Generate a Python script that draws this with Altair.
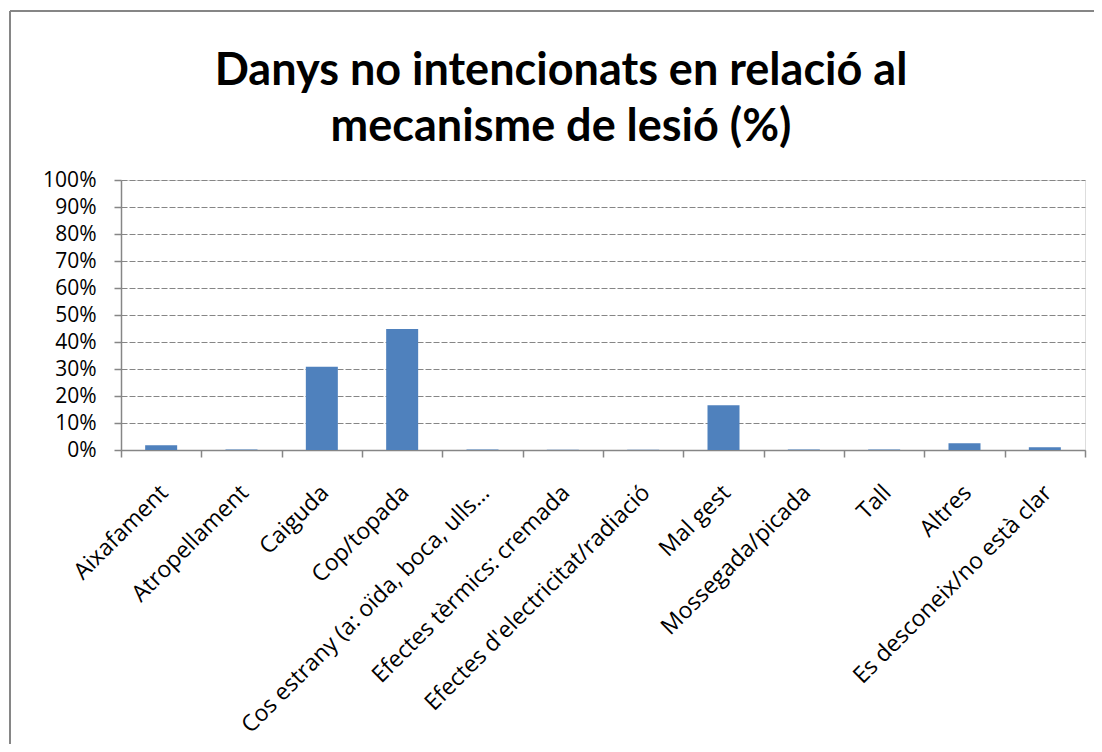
import altair as alt
import pandas as pd

categories = [
    "Aixafament",
    "Atropellament",
    "Caiguda",
    "Cop/topada",
    "Cos estrany (a: oïda, boca, ulls…",
    "Efectes tèrmics: cremada",
    "Efectes d'electricitat/radiació",
    "Mal gest",
    "Mossegada/picada",
    "Tall",
    "Altres",
    "Es desconeix/no està clar",
]
values = [1.8, 0.2, 30.8, 44.8, 0.2, 0.1, 0.1, 16.6, 0.2, 0.2, 2.5, 1.0]
y_ticks = [0, 10, 20, 30, 40, 50, 60, 70, 80, 90, 100]
title_lines = ["Danys no intencionats en relació al", "mecanisme de lesió (%)"]

df = pd.DataFrame({"cat": categories, "val": values})

GREY = "#868686"

bars = alt.Chart(df).mark_bar(size=32, color="#4F81BD").encode(
    x=alt.X(
        "cat:N",
        sort=categories,
        title=None,
        scale=alt.Scale(paddingInner=0, paddingOuter=0),
        axis=alt.Axis(
            tickBand="extent",
            tickSize=7,
            tickColor=GREY,
            tickWidth=1.5,
            domainColor=GREY,
            domainWidth=1.5,
            labelAngle=-45,
            labelAlign="right",
            labelBaseline="top",
            labelPadding=24,
            labelOffset=-5,
            labelFont="Open Sans",
            labelFontSize=23,
            labelColor="#000000",
            labelLimit=500,
            labelOverlap=False,
        ),
    ),
    y=alt.Y(
        "val:Q",
        title=None,
        scale=alt.Scale(domain=[0, 100], nice=False),
        axis=alt.Axis(
            values=y_ticks,
            labelExpr="datum.value + '%'",
            tickSize=7,
            tickColor=GREY,
            tickWidth=1.5,
            domainColor=GREY,
            domainWidth=1.5,
            grid=True,
            gridColor=GREY,
            gridDash=[6, 2],
            gridWidth=1,
            labelPadding=18,
            labelFont="Open Sans",
            labelFontSize=21,
            labelColor="#000000",
        ),
    ),
)

frame_df = pd.DataFrame({"k": [0]})
left_line = alt.Chart(frame_df).mark_rule(color=GREY, strokeWidth=2).encode(
    x=alt.value(-111), y=alt.value(-169), y2=alt.value(700)
)
top_line = alt.Chart(frame_df).mark_rule(color=GREY, strokeWidth=2).encode(
    x=alt.value(-111), x2=alt.value(1100), y=alt.value(-169)
)

title1 = alt.Chart(pd.DataFrame({"line": [title_lines[0]]})).mark_text(
    font="Lato", fontSize=45, fontWeight="bold", color="#000000",
    align="center", baseline="alphabetic",
).encode(text="line:N", x=alt.value(440), y=alt.value(-95))
title2 = alt.Chart(pd.DataFrame({"line": [title_lines[1]]})).mark_text(
    font="Lato", fontSize=45, fontWeight="bold", color="#000000",
    align="center", baseline="alphabetic",
).encode(text="line:N", x=alt.value(440), y=alt.value(-39))

chart = (
    alt.layer(left_line, top_line, bars, title1, title2)
    .properties(
        width=964,
        height=270,
        autosize=alt.AutoSizeParams(type="none"),
        padding={"left": 113, "top": 172, "right": 9, "bottom": 294},
    )
    .configure_view(stroke=None)
    .configure(background="white")
)

chart.save("out.html", embed_options={"renderer": "svg", "actions": False})
